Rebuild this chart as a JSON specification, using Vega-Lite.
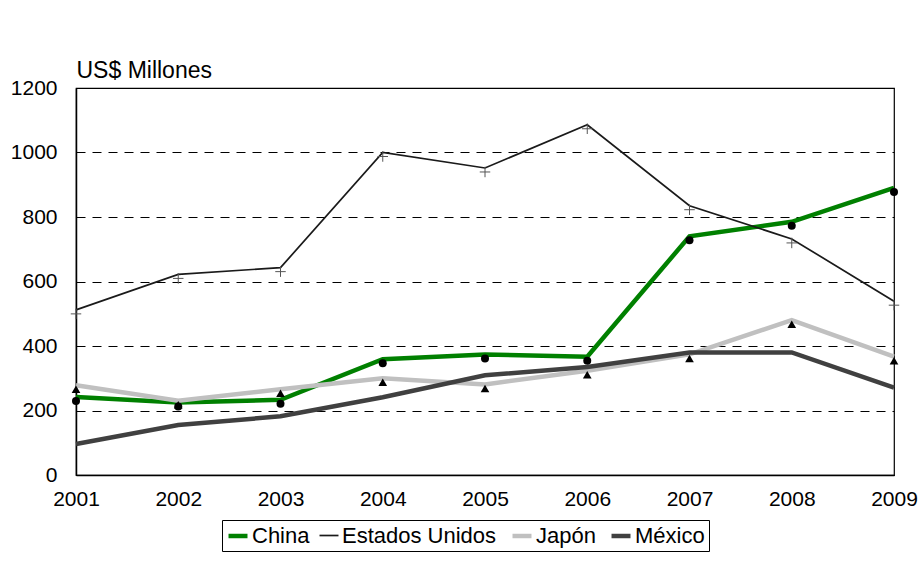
{
  "$schema": "https://vega.github.io/schema/vega-lite/v6.json",
  "width": 818,
  "height": 387,
  "autosize": {"type": "none"},
  "padding": {"left": 76, "top": 88, "right": 29, "bottom": 97},
  "background": "white",
  "config": {
    "font": "Liberation Sans",
    "view": {"stroke": "black", "strokeWidth": 1.2},
    "axis": {"labelFont": "Liberation Sans", "labelColor": "black", "titleColor": "black", "titleFont": "Liberation Sans"}
  },
  "data": {
    "values": [
      {"year": 2001, "country": "China", "value": 242},
      {"year": 2002, "country": "China", "value": 225},
      {"year": 2003, "country": "China", "value": 233},
      {"year": 2004, "country": "China", "value": 359},
      {"year": 2005, "country": "China", "value": 374},
      {"year": 2006, "country": "China", "value": 367},
      {"year": 2007, "country": "China", "value": 740},
      {"year": 2008, "country": "China", "value": 785},
      {"year": 2009, "country": "China", "value": 890},
      {"year": 2001, "country": "Estados Unidos", "value": 512},
      {"year": 2002, "country": "Estados Unidos", "value": 622},
      {"year": 2003, "country": "Estados Unidos", "value": 643},
      {"year": 2004, "country": "Estados Unidos", "value": 1000},
      {"year": 2005, "country": "Estados Unidos", "value": 952},
      {"year": 2006, "country": "Estados Unidos", "value": 1086},
      {"year": 2007, "country": "Estados Unidos", "value": 835},
      {"year": 2008, "country": "Estados Unidos", "value": 732},
      {"year": 2009, "country": "Estados Unidos", "value": 539},
      {"year": 2001, "country": "Japón", "value": 278},
      {"year": 2002, "country": "Japón", "value": 230},
      {"year": 2003, "country": "Japón", "value": 266},
      {"year": 2004, "country": "Japón", "value": 300},
      {"year": 2005, "country": "Japón", "value": 281},
      {"year": 2006, "country": "Japón", "value": 323},
      {"year": 2007, "country": "Japón", "value": 374},
      {"year": 2008, "country": "Japón", "value": 480},
      {"year": 2009, "country": "Japón", "value": 367},
      {"year": 2001, "country": "México", "value": 96},
      {"year": 2002, "country": "México", "value": 155},
      {"year": 2003, "country": "México", "value": 182},
      {"year": 2004, "country": "México", "value": 241},
      {"year": 2005, "country": "México", "value": 309},
      {"year": 2006, "country": "México", "value": 335},
      {"year": 2007, "country": "México", "value": 380},
      {"year": 2008, "country": "México", "value": 380},
      {"year": 2009, "country": "México", "value": 271}
    ]
  },
  "encoding": {
    "x": {
      "field": "year",
      "type": "quantitative",
      "scale": {"domain": [2001, 2009], "nice": false, "zero": false},
      "axis": {
        "values": [2001, 2002, 2003, 2004, 2005, 2006, 2007, 2008, 2009],
        "format": "d",
        "title": null,
        "grid": false,
        "ticks": false,
        "domainColor": "black",
        "domainWidth": 1.5,
        "labelFontSize": 21,
        "labelPadding": 13,
        "labelFlush": false
      }
    },
    "y": {
      "field": "value",
      "type": "quantitative",
      "scale": {"domain": [0, 1200], "nice": false},
      "axis": {
        "values": [0, 200, 400, 600, 800, 1000, 1200],
        "format": "d",
        "title": "US$ Millones",
        "titleAngle": 0,
        "titleAlign": "left",
        "titleBaseline": "alphabetic",
        "titleX": 0,
        "titleY": -11,
        "titleFontSize": 23,
        "titleFontWeight": "normal",
        "grid": true,
        "gridColor": "black",
        "gridDash": [9, 7],
        "gridWidth": 1,
        "ticks": false,
        "domainColor": "black",
        "domainWidth": 1.5,
        "labelFontSize": 21,
        "labelPadding": 19
      }
    }
  },
  "layer": [
    {
      "mark": {"type": "line", "strokeJoin": "miter"},
      "encoding": {
        "color": {
          "field": "country",
          "type": "nominal",
          "scale": {
            "domain": ["China", "Estados Unidos", "Japón", "México"],
            "range": ["#008000", "#1a1a1a", "#c0c0c0", "#404040"]
          },
          "legend": {
            "title": null,
            "orient": "none",
            "direction": "horizontal",
            "legendX": 146,
            "legendY": 432,
            "strokeColor": "black",
            "fillColor": "white",
            "padding": 4,
            "symbolType": "stroke",
            "symbolSize": 360,
            "labelFontSize": 22,
            "labelColor": "black",
            "labelOffset": 2,
            "columnPadding": 6
          }
        },
        "strokeWidth": {
          "field": "country",
          "type": "nominal",
          "scale": {
            "type": "ordinal",
            "domain": ["China", "Estados Unidos", "Japón", "México"],
            "range": [4.5, 1.7, 4.5, 4.5]
          },
          "legend": null
        },
        "order": {"field": "year"}
      }
    },
    {
      "transform": [{"filter": "datum.country === 'China'"}],
      "mark": {"type": "point", "shape": "circle", "filled": true, "color": "black", "opacity": 1, "size": 64, "yOffset": 4}
    },
    {
      "transform": [{"filter": "datum.country === 'Japón'"}],
      "mark": {"type": "point", "shape": "triangle-up", "filled": true, "color": "black", "opacity": 1, "size": 75, "yOffset": 4}
    },
    {
      "transform": [{"filter": "datum.country === 'Estados Unidos'"}],
      "mark": {"type": "point", "shape": "M-1,0H1M0,-1V1", "filled": false, "color": "#555555", "strokeWidth": 1, "opacity": 1, "size": 110, "yOffset": 4}
    }
  ]
}
